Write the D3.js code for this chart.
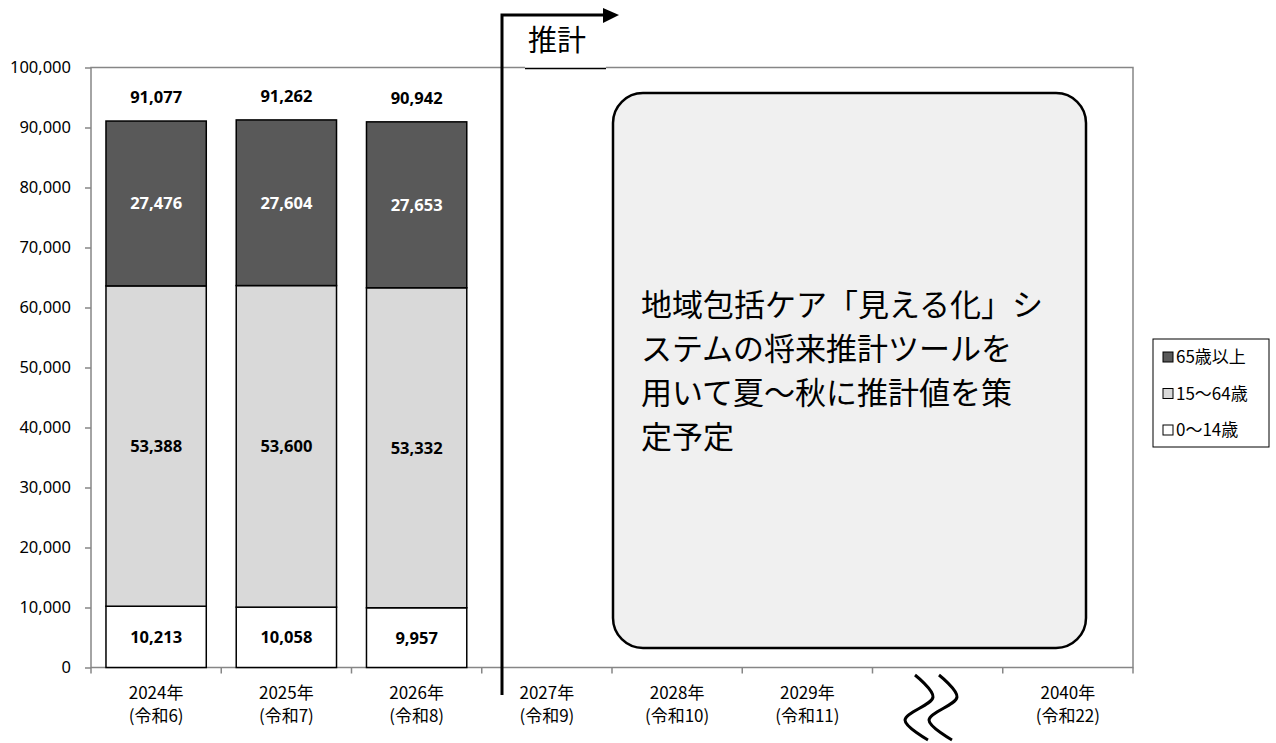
<!DOCTYPE html>
<html>
<head>
<meta charset="utf-8">
<script src="https://cdn.jsdelivr.net/npm/d3@7"></script>
<style>
  html, body { margin: 0; padding: 0; background: #fff; }
  svg { display: block; }
  text { font-family: "Noto Sans", "Noto Sans CJK JP", sans-serif; }
  .jp { font-family: "Noto Sans CJK JP", "Noto Sans", sans-serif; }
</style>
</head>
<body>
<svg id="chart" width="1276" height="743"></svg>
<script>
// Population by age group (persons)
const categories = ["2024年|(令和6)", "2025年|(令和7)", "2026年|(令和8)", "2027年|(令和9)",
                    "2028年|(令和10)", "2029年|(令和11)", "gap", "2040年|(令和22)"];
const years = ["2024年|(令和6)", "2025年|(令和7)", "2026年|(令和8)"];
const age0to14 = [10213, 10058, 9957];
const age15to64 = [53388, 53600, 53332];
const age65plus = [27476, 27604, 27653];
const totals = [91077, 91262, 90942];
const yTicks = [0, 10000, 20000, 30000, 40000, 50000, 60000, 70000, 80000, 90000, 100000];
const seriesNames = ["0〜14歳", "15〜64歳", "65歳以上"];
const seriesColors = ["#ffffff", "#d9d9d9", "#595959"];
const labelColors = ["#000000", "#000000", "#ffffff"];
const noteLines = ["地域包括ケア「見える化」シ", "ステムの将来推計ツールを", "用いて夏〜秋に推計値を策", "定予定"];

const svg = d3.select("#chart");
const plot = { left: 91, right: 1133, top: 67.5, bottom: 667.5 };

const x = d3.scaleBand().domain(categories)
  .range([plot.left, plot.right]).paddingInner(0.23).paddingOuter(0.115);
const y = d3.scaleLinear().domain([0, 100000]).range([plot.bottom, plot.top]);

// stacked data
const rows = years.map((c, i) => ({ cat: c, a: age0to14[i], b: age15to64[i], c: age65plus[i] }));
const stack = d3.stack().keys(["a", "b", "c"])(rows);

// plot border
svg.append("rect")
  .attr("x", plot.left).attr("y", plot.top)
  .attr("width", plot.right - plot.left).attr("height", plot.bottom - plot.top)
  .attr("fill", "none").attr("stroke", "#868686").attr("stroke-width", 1.5);

// y axis
const yAxis = svg.append("g").attr("transform", `translate(${plot.left},0)`)
  .call(d3.axisLeft(y).tickValues(yTicks).tickFormat(d3.format(",")).tickSize(6).tickPadding(14));
yAxis.attr("font-size", null).attr("font-family", null);
yAxis.select(".domain").remove();
yAxis.selectAll(".tick line").attr("stroke", "#868686").attr("stroke-width", 1.5);
yAxis.selectAll(".tick text").attr("font-size", 16.5).attr("fill", "#000")
  .style("font-family", "'Noto Sans', sans-serif");

// x category boundary ticks
const step = x.step();
const bounds = d3.range(categories.length + 1).map(i => plot.left + i * step);
svg.append("g").selectAll("line").data(bounds).join("line")
  .attr("x1", d => d).attr("x2", d => d)
  .attr("y1", plot.bottom).attr("y2", plot.bottom + 6)
  .attr("stroke", "#868686").attr("stroke-width", 1.5);

// x labels
const xl = svg.append("g").selectAll("text")
  .data(categories.filter(c => c !== "gap")).join("text")
  .attr("class", "jp")
  .attr("x", d => x(d) + x.bandwidth() / 2)
  .attr("text-anchor", "middle").attr("font-size", 17).attr("fill", "#000");
xl.append("tspan").attr("x", d => x(d) + x.bandwidth() / 2).attr("y", 699).text(d => d.split("|")[0]);
xl.append("tspan").attr("x", d => x(d) + x.bandwidth() / 2).attr("y", 722).text(d => d.split("|")[1]);

// bars
stack.forEach((layer, si) => {
  const g = svg.append("g");
  g.selectAll("rect").data(layer).join("rect")
    .attr("x", d => x(d.data.cat))
    .attr("y", d => y(d[1]))
    .attr("width", x.bandwidth())
    .attr("height", d => y(d[0]) - y(d[1]))
    .attr("fill", seriesColors[si])
    .attr("stroke", "#000").attr("stroke-width", 1.5);
  g.selectAll("text").data(layer).join("text")
    .attr("x", d => x(d.data.cat) + x.bandwidth() / 2)
    .attr("y", d => (y(d[0]) + y(d[1])) / 2)
    .attr("dy", "0.36em")
    .attr("text-anchor", "middle").attr("font-size", 16.5).attr("font-weight", "bold")
    .attr("fill", labelColors[si])
    .text(d => d3.format(",")(d[1] - d[0]));
});

// totals
svg.append("g").selectAll("text").data(years).join("text")
  .attr("x", d => x(d) + x.bandwidth() / 2)
  .attr("y", (d, i) => y(totals[i]) - 24)
  .attr("dy", "0.36em")
  .attr("text-anchor", "middle").attr("font-size", 16.5).attr("font-weight", "bold")
  .attr("fill", "#000")
  .text((d, i) => d3.format(",")(totals[i]));

// note box
svg.append("rect")
  .attr("x", 613).attr("y", 93).attr("width", 473).attr("height", 555)
  .attr("rx", 30).attr("ry", 30)
  .attr("fill", "#f0f0f0").attr("stroke", "#000").attr("stroke-width", 2.5);
svg.append("g").selectAll("text").data(noteLines).join("text")
  .attr("class", "jp")
  .attr("x", 641).attr("y", (d, i) => 305 + i * 44)
  .attr("dy", "0.36em")
  .attr("font-size", 31).attr("fill", "#000")
  .text(d => d);

// projection marker: label with underline and arrow
svg.append("rect").attr("x", 525).attr("y", 60).attr("width", 81).attr("height", 8).attr("fill", "#fff");
svg.append("line").attr("x1", 525).attr("x2", 606).attr("y1", 68.5).attr("y2", 68.5)
  .attr("stroke", "#000").attr("stroke-width", 1.5);
svg.append("text").attr("class", "jp")
  .attr("x", 557).attr("y", 41).attr("dy", "0.36em")
  .attr("text-anchor", "middle").attr("font-size", 29).attr("fill", "#000")
  .text("推計");
svg.append("path")
  .attr("d", "M502,695 L502,15 L604,15")
  .attr("fill", "none").attr("stroke", "#000").attr("stroke-width", 3);
svg.append("path")
  .attr("d", "M603,8 L619,15 L603,23 Z")
  .attr("fill", "#000");

// break marks between 2029 and 2040
const wave = d3.line().curve(d3.curveCatmullRom.alpha(0.5));
[0, 24].forEach(off => {
  svg.append("path")
    .attr("d", wave([[915 + off, 675], [933 + off, 697], [905 + off, 720], [928 + off, 740]]))
    .attr("fill", "none").attr("stroke", "#000").attr("stroke-width", 3);
});

// legend
const lg = svg.append("g");
lg.append("rect").attr("x", 1153).attr("y", 339).attr("width", 116).attr("height", 108)
  .attr("fill", "#fff").attr("stroke", "#000").attr("stroke-width", 1);
const legendOrder = [2, 1, 0];
legendOrder.forEach((si, k) => {
  const cy = 357 + k * 36.5;
  lg.append("rect").attr("x", 1163).attr("y", cy - 5).attr("width", 10).attr("height", 10)
    .attr("fill", seriesColors[si]).attr("stroke", "#000").attr("stroke-width", 1);
  lg.append("text").attr("class", "jp")
    .attr("x", 1176).attr("y", cy).attr("dy", "0.36em")
    .attr("font-size", 17).attr("fill", "#000")
    .text(seriesNames[si]);
});
</script>
</body>
</html>
